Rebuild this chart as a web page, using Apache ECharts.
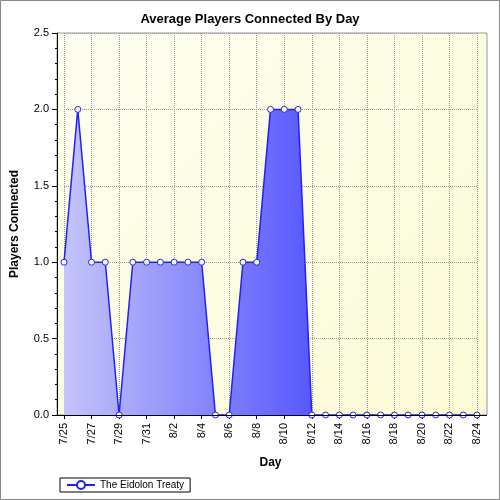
<!DOCTYPE html>
<html><head><meta charset="utf-8">
<script src="https://cdn.jsdelivr.net/npm/echarts@6/dist/echarts.min.js"></script>
<style>html,body{margin:0;padding:0;background:#fff}#c{width:500px;height:500px}</style>
</head><body><div id="c"></div>
<script>
const days = ["7/25","7/26","7/27","7/28","7/29","7/30","7/31","8/1","8/2","8/3","8/4","8/5","8/6","8/7","8/8","8/9","8/10","8/11","8/12","8/13","8/14","8/15","8/16","8/17","8/18","8/19","8/20","8/21","8/22","8/23","8/24"];
const players = [1,2,1,1,0,1,1,1,1,1,1,0,0,1,1,2,2,2,0,0,0,0,0,0,0,0,0,0,0,0,0];
const seriesName = "The Eidolon Treaty";
const chart = echarts.init(document.getElementById('c'));
chart.setOption({
  animation:false,
  title:{text:"Average Players Connected By Day",left:'center',top:8,textStyle:{fontFamily:'Liberation Sans',fontSize:13,fontWeight:'bold',color:'#000'}},
  graphic:[
    {type:'rect',shape:{x:0.5,y:0.5,width:499,height:499},style:{fill:null,stroke:'#888',lineWidth:1},z:-10},
    {type:'rect',shape:{x:57,y:33,width:430,height:382},style:{fill:new echarts.graphic.LinearGradient(0,0,1,1,[{offset:0,color:'#fefef0'},{offset:1,color:'#fbfbd6'}]),stroke:'#999'},z:-5},
    {type:'line',shape:{x1:57,y1:415.5,x2:487,y2:415.5},style:{stroke:'#000',lineWidth:1},z:10}
  ],
  grid:{left:64,right:23,top:33,bottom:85},
  xAxis:{type:'category',data:days,boundaryGap:false,name:'Day',nameLocation:'middle',nameGap:42,
    nameTextStyle:{fontFamily:'Liberation Sans',fontWeight:'bold',fontSize:12,color:'#000'},
    axisLine:{lineStyle:{color:'#000'}},axisTick:{interval:1,lineStyle:{color:'#000'},length:4},
    axisLabel:{interval:1,rotate:90,fontFamily:'Liberation Sans',fontSize:11,color:'#000'},
    splitLine:{show:true,interval:1,lineStyle:{type:'dotted',color:'#999'}}},
  yAxis:{type:'value',min:0,max:2.5,interval:0.5,offset:7,name:'Players Connected',nameLocation:'middle',nameGap:36,
    nameTextStyle:{fontFamily:'Liberation Sans',fontWeight:'bold',fontSize:12,color:'#000'},
    axisLine:{show:true,lineStyle:{color:'#000'}},axisTick:{show:true,lineStyle:{color:'#000'}},
    minorTick:{show:true,splitNumber:5,length:2,lineStyle:{color:'#000'}},
    axisLabel:{formatter:v=>v.toFixed(1),fontFamily:'Liberation Sans',fontSize:11,color:'#000'},
    splitLine:{lineStyle:{type:'dotted',color:'#999'}}},
  legend:{left:60,top:478,itemWidth:28,itemHeight:10,padding:[2,6],borderColor:'#000',borderWidth:1,
    textStyle:{fontFamily:'Liberation Sans',fontSize:10,color:'#000'},data:[seriesName]},
  series:[{name:seriesName,type:'line',data:players,symbol:'circle',symbolSize:6,
    itemStyle:{color:'#fff',borderColor:'#2020ff',borderWidth:1},
    lineStyle:{color:'#2020ff',width:1.5},
    areaStyle:{opacity:1,color:new echarts.graphic.LinearGradient(0,0,1,0,[{offset:0,color:'#c4c4fa'},{offset:1,color:'#1010ff'}])}}]
});
</script></body></html>
